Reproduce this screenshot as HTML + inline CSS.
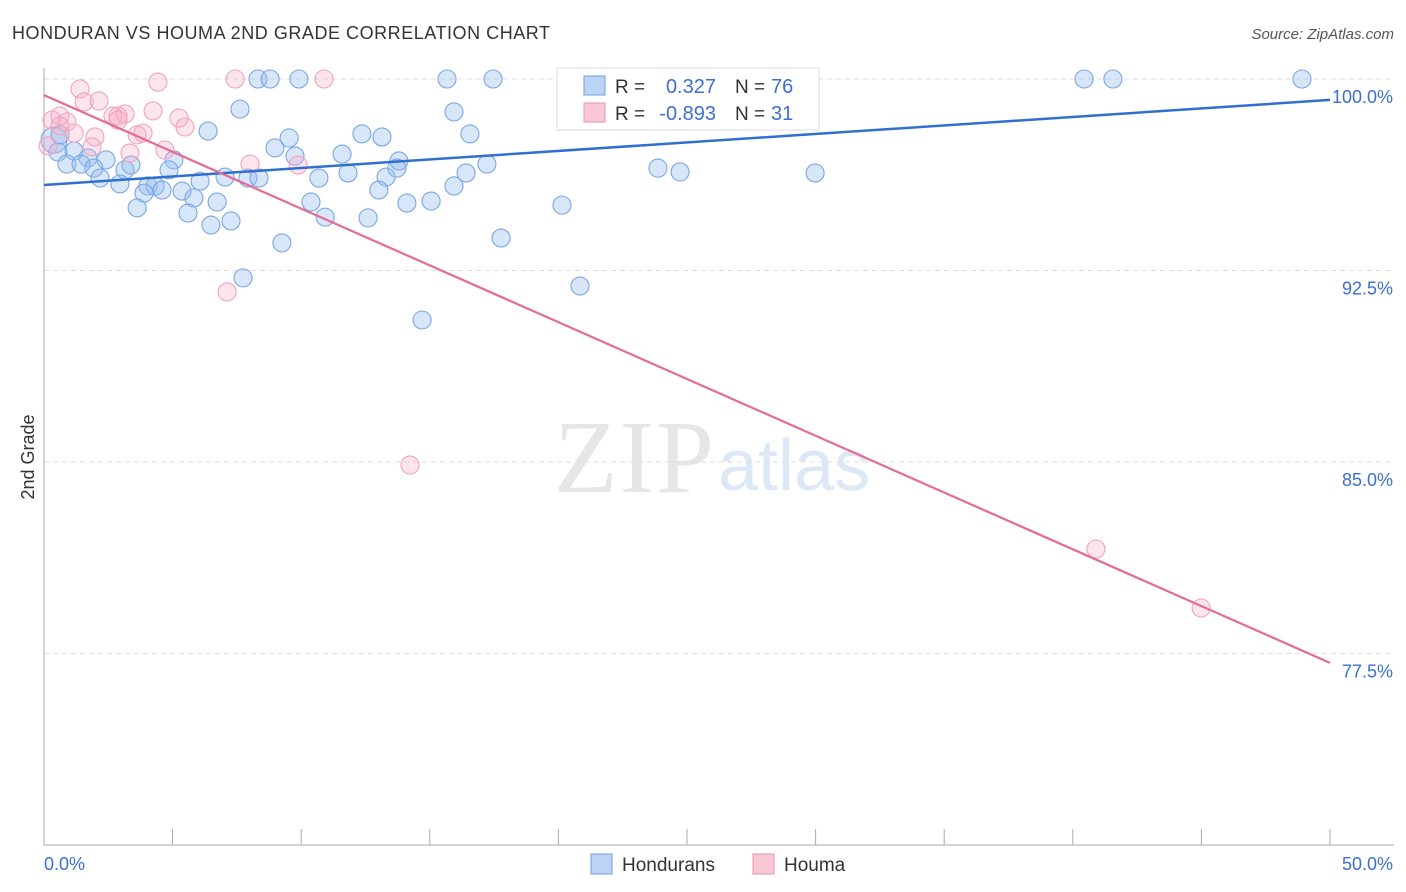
<!DOCTYPE html>
<html><head><meta charset="utf-8">
<style>
body{margin:0;background:#fff;font-family:"Liberation Sans",sans-serif;}
#wrap{position:relative;width:1406px;height:892px;overflow:hidden;}
</style></head>
<body>
<div id="wrap">
<svg id="svg" width="1406" height="892" xmlns="http://www.w3.org/2000/svg">
<text x="12" y="39" font-size="18" fill="#333" textLength="538">HONDURAN VS HOUMA 2ND GRADE CORRELATION CHART</text>
<text x="1394" y="39" font-size="15" fill="#555" text-anchor="end" font-style="italic">Source: ZipAtlas.com</text>
<text x="714" y="492" font-size="104" fill="#e6e6e6" text-anchor="end" font-family="Liberation Serif,serif" textLength="160">ZIP</text>
<text x="718" y="490" font-size="72" fill="#dde8f7">atlas</text>
<text transform="translate(34,457) rotate(-90)" font-size="18" fill="#333" text-anchor="middle">2nd Grade</text>
<g id="grid"></g><g id="axes"></g><g id="pts"></g><g id="lines"></g>
<g>
<rect x="557" y="68" width="262" height="62" fill="#fff" stroke="#ddd"/>
<rect x="584" y="76" width="21" height="19" fill="#bcd3f5" stroke="#6f9fe3"/>
<rect x="584" y="103" width="21" height="19" fill="#f9c6d5" stroke="#ec93ae"/>
<text x="615" y="93" font-size="19" fill="#333">R =</text>
<text x="716" y="93" font-size="20" fill="#3b6fd4" text-anchor="end">0.327</text>
<text x="735" y="93" font-size="19" fill="#333">N =</text>
<text x="771" y="93" font-size="20" fill="#3b6fd4">76</text>
<text x="615" y="120" font-size="19" fill="#333">R =</text>
<text x="716" y="120" font-size="20" fill="#3b6fd4" text-anchor="end">-0.893</text>
<text x="735" y="120" font-size="19" fill="#333">N =</text>
<text x="771" y="120" font-size="20" fill="#3b6fd4">31</text>
</g>
<g>
<rect x="591" y="854" width="21" height="20" fill="#bcd3f5" stroke="#6f9fe3"/>
<text x="622" y="871" font-size="19" fill="#333">Hondurans</text>
<rect x="753" y="854" width="21" height="20" fill="#f9c6d5" stroke="#ec93ae"/>
<text x="784" y="871" font-size="19" fill="#333">Houma</text>
</g>
</svg>
</div>
<script>
const blueX=[8.32,8.79,9.91,15.67,17.46,25.0,28.27,40.44,41.56,48.91,7.62,15.94,6.38,16.56,9.53,12.36,13.14,8.98,11.59,9.76,13.80,0.39,0.62,0.54,1.17,0.89,1.71,1.44,2.41,1.94,2.18,3.15,3.38,5.05,4.86,2.95,4.04,4.32,4.59,3.89,5.37,6.07,7.04,7.93,8.36,5.83,6.73,3.62,5.60,6.49,7.27,10.69,11.82,13.30,13.72,16.41,17.22,13.02,15.94,10.38,14.11,15.05,10.93,12.60,20.14,9.25,17.77,7.74,20.84,14.70,23.87,24.73,29.98];
const blueY=[100,100,100,100,100,100,100,100,100,100,98.82,98.71,97.96,97.85,97.69,97.85,97.73,97.30,97.06,96.98,96.79,97.61,97.81,97.14,97.18,96.67,96.91,96.67,96.83,96.51,96.12,96.44,96.63,96.83,96.44,95.89,95.81,95.81,95.65,95.53,95.61,96.00,96.16,96.12,96.12,95.34,95.18,94.95,94.75,94.28,94.44,96.12,96.32,96.16,96.51,96.32,96.67,95.65,95.81,95.18,95.14,95.22,94.59,94.56,95.06,93.58,93.77,92.21,91.89,90.56,96.51,96.36,96.32];
const pinkX=[0.31,0.62,0.89,1.17,0.16,1.40,1.56,2.14,1.98,1.87,2.68,2.88,3.15,2.88,4.24,4.43,3.62,3.85,3.34,5.25,5.48,4.70,7.43,10.89,8.01,9.88,7.12,14.23,40.90,44.99,0.62];
const pinkY=[98.39,98.55,98.32,97.88,97.38,99.61,99.10,99.14,97.73,97.34,98.55,98.55,98.63,98.39,98.75,99.88,97.81,97.88,97.10,98.47,98.12,97.22,100,100,96.67,96.63,91.66,84.88,81.59,79.28,98.16];
const blueTrend=[95.85,99.18];
const pinkTrend=[99.37,77.13];
const yTicks=[100,92.5,85,77.5];
const yTickLabels=["100.0%","92.5%","85.0%","77.5%"];
const xTicks=[0,5,10,15,20,25,30,35,40,45,50];
const NS="http://www.w3.org/2000/svg";
const sx=v=>44+v*25.72, sy=v=>79+(100-v)*25.53;
function mk(t,a,p){const e=document.createElementNS(NS,t);for(const k in a)e.setAttribute(k,a[k]);document.getElementById(p).appendChild(e);return e;}
yTicks.forEach((v,i)=>{
 const g=mk('line',{x1:44,x2:1394,y1:sy(v),y2:sy(v),stroke:'#ddd','stroke-dasharray':'5,4'},'grid');
 
 
 const t=mk('text',{x:1393,y:sy(v)+24,'font-size':18,fill:'#3b6fd4','text-anchor':'end'},'axes');
 t.textContent=yTickLabels[i];
 
 
});
const ya=mk('line',{x1:44,x2:44,y1:68,y2:845,stroke:'#aaa'},'axes');


const xa=mk('line',{x1:44,x2:1394,y1:845,y2:845,stroke:'#aaa'},'axes');


xTicks.forEach(v=>{
 const l=mk('line',{x1:sx(v),x2:sx(v),y1:829,y2:845,stroke:'#aaa'},'axes');
 
 
});
const xl0=mk('text',{x:44,y:870,'font-size':18,fill:'#3b6fd4'},'axes');xl0.textContent=xTicks[0].toFixed(1)+'%';


const xl1=mk('text',{x:1393,y:870,'font-size':18,fill:'#3b6fd4','text-anchor':'end'},'axes');xl1.textContent=xTicks[xTicks.length-1].toFixed(1)+'%';


blueX.forEach((x,i)=>{
 const c=mk('circle',{cx:sx(x),cy:sy(blueY[i]),r:i==21?13:9,fill:'rgba(150,188,238,0.38)',stroke:'#7aa6e6','stroke-width':1.1},'pts');
 
 
});
pinkX.forEach((x,i)=>{
 const c=mk('circle',{cx:sx(x),cy:sy(pinkY[i]),r:9,fill:'rgba(245,175,198,0.32)',stroke:'#f0a3bb','stroke-width':1.1},'pts');
 
 
});
const bl=mk('line',{x1:sx(0),y1:sy(blueTrend[0]),x2:sx(50),y2:sy(blueTrend[1]),stroke:'#2f6fd0','stroke-width':2.5},'lines');


const pl=mk('line',{x1:sx(0),y1:sy(pinkTrend[0]),x2:sx(50),y2:sy(pinkTrend[1]),stroke:'#e56b95','stroke-width':2.2},'lines');


</script>
</body></html>
